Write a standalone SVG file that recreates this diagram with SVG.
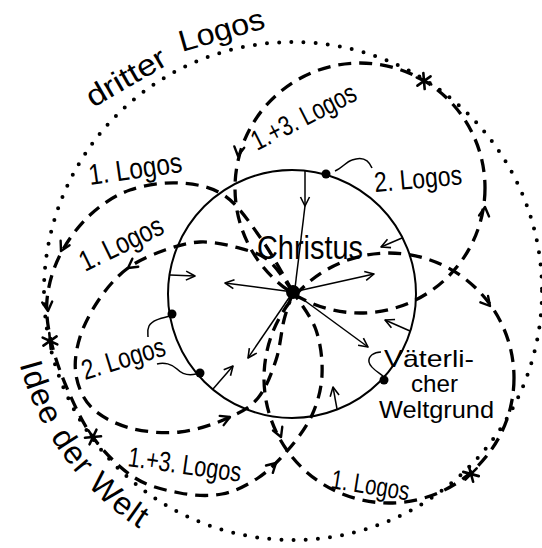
<svg xmlns="http://www.w3.org/2000/svg" width="542" height="548" viewBox="0 0 542 548">
<defs>
<style>
.dash{fill:none;stroke:#000;stroke-width:3.3;stroke-dasharray:13 8}
.dots{fill:none;stroke:#000;stroke-width:4;stroke-dasharray:0 12.2;stroke-linecap:round}
.solid{fill:none;stroke:#000;stroke-width:2}
.thin{fill:none;stroke:#000;stroke-width:1.5}
.ah{fill:none;stroke:#000;stroke-width:2.4;stroke-linecap:round;stroke-linejoin:round}
.star{fill:none;stroke:#000;stroke-width:2.6;stroke-linecap:round}
.lbl{font-family:"Liberation Sans",Arial,sans-serif;fill:#000}
</style>
<path id="ah" d="M-9,-5 L0,0 L-9,5"/>
<path id="star" d="M-8,0 L8,0 M-4,-7 L4,7 M-4,7 L4,-7"/>
<marker id="arr" markerUnits="userSpaceOnUse" viewBox="-11 -6 13 12" markerWidth="13" markerHeight="12" refX="0" refY="0" orient="auto">
<path d="M-9,-4.5 L0,0 L-9,4.5" fill="none" stroke="#000" stroke-width="1.6" stroke-linejoin="round"/>
</marker>
<path id="arcLeft" d="M18.4,359.5 A283,283 0 0 0 187,553.4"/>
</defs>
<rect width="542" height="548" fill="#fff"/>

<g id="dritter-logos">
<circle class="dots" cx="293" cy="291" r="249"/>
<text class="lbl" font-size="30" x="93" y="108" transform="rotate(-30 93 108)" textLength="88" lengthAdjust="spacingAndGlyphs">dritter</text>
<text class="lbl" font-size="30" x="182" y="52" transform="rotate(-16 182 52)" textLength="88" lengthAdjust="spacingAndGlyphs">Logos</text>
</g>

<g id="idee-der-welt">
<text class="lbl" font-size="32" letter-spacing="1.5"><textPath href="#arcLeft" startOffset="5">Idee der Welt</textPath></text>
</g>

<g id="connectors">
<!-- Logos loop A (1.+3. Logos, upper right) -->
<circle class="dash" cx="360" cy="188" r="125"/>
<!-- Logos loop B (1. Logos, lower right) -->
<circle class="dash" cx="389" cy="378" r="125"/>
<!-- Logos loop C (2. Logos, left) -->
<path class="dash" d="M293,292 C288.8,286.7 277.7,267.5 268,260 C258.3,252.5 246.3,250 235,247 C223.7,244 211.7,241.5 200,242 C188.3,242.5 177,245.7 165,250 C153,254.3 138.8,260 128,268 C117.2,276 108,286.5 100,298 C92,309.5 84,324.2 80,337 C76,349.8 74,363.2 76,375 C78,386.8 83,399.2 92,408 C101,416.8 115.3,424 130,428 C144.7,432 163.7,433.7 180,432 C196.3,430.3 215,423.7 228,418 C241,412.3 250,407.7 258,398 C266,388.3 271.7,373 276,360 C280.3,347 281.2,331.3 284,320 C286.8,308.7 291.5,296.7 293,292"/>
<!-- Logos loop D (1. Logos outer / 1.+3. Logos lower) -->
<path class="dash" d="M293,292 C287.8,283.3 273.3,256 262,240 C250.7,224 238.7,205.5 225,196 C211.3,186.5 195.8,184 180,183 C164.2,182 145,184.7 130,190 C115,195.3 101.7,204.2 90,215 C78.3,225.8 67.2,240.8 60,255 C52.8,269.2 48.3,285 47,300 C45.7,315 48.2,329.2 52,345 C55.8,360.8 62.8,379.2 70,395 C77.2,410.8 84.2,426.2 95,440 C105.8,453.8 120.8,469.2 135,478 C149.2,486.8 165.5,490.3 180,493 C194.5,495.7 209,496.5 222,494 C235,491.5 247,485.3 258,478 C269,470.7 279,460.5 288,450 C297,439.5 306.3,427.5 312,415 C317.7,402.5 321.3,389.2 322,375 C322.7,360.8 320.8,343.8 316,330 C311.2,316.2 296.8,298.3 293,292"/>
<!-- arrowheads on loops -->
<use href="#ah" class="ah" transform="translate(238,156) rotate(98)"/>
<use href="#ah" class="ah" transform="translate(485,207) rotate(-84)"/>
<use href="#ah" class="ah" transform="translate(490,306) rotate(50)"/>
<use href="#ah" class="ah" transform="translate(281,437) rotate(68)"/>
<use href="#ah" class="ah" transform="translate(128,268) rotate(144)"/>
<use href="#ah" class="ah" transform="translate(230,417) rotate(-23)"/>
<use href="#ah" class="ah" transform="translate(61,251) rotate(117)"/>
<use href="#ah" class="ah" transform="translate(48,311) rotate(85)"/>
<use href="#ah" class="ah" transform="translate(276,463) rotate(-43)"/>
<!-- crossing stars -->
<use href="#star" class="star" transform="translate(424,81) rotate(25)"/>
<use href="#star" class="star" transform="translate(471,474) rotate(-45)"/>
<use href="#star" class="star" transform="translate(50,341) rotate(85)"/>
<use href="#star" class="star" transform="translate(93,437) rotate(55)"/>
<!-- loop labels -->
<text class="lbl" font-size="29" x="90" y="185" transform="rotate(-8 90 185)" textLength="94" lengthAdjust="spacingAndGlyphs">1. Logos</text>
<text class="lbl" font-size="29" x="85" y="272" transform="rotate(-26 85 272)" textLength="90" lengthAdjust="spacingAndGlyphs">1. Logos</text>
<text class="lbl" font-size="28" x="257" y="151" transform="rotate(-27 257 151)" textLength="114" lengthAdjust="spacingAndGlyphs">1.+3. Logos</text>
<text class="lbl" font-size="28" x="127" y="466" transform="rotate(8 127 466)" textLength="114" lengthAdjust="spacingAndGlyphs">1.+3. Logos</text>
<text class="lbl" font-size="27" x="330" y="488" transform="rotate(9 330 488)" textLength="79" lengthAdjust="spacingAndGlyphs">1. Logos</text>
</g>

<g id="weltkreis">
<circle class="solid" cx="292" cy="294" r="124"/>
<!-- short arrows at the circle -->
<line class="thin" x1="170" y1="275" x2="195" y2="276" marker-end="url(#arr)"/>
<line class="thin" x1="213" y1="389" x2="233" y2="366" marker-end="url(#arr)"/>
<line class="thin" x1="337" y1="409" x2="333" y2="387" marker-end="url(#arr)"/>
<line class="thin" x1="410" y1="331" x2="385" y2="320" marker-end="url(#arr)"/>
<line class="thin" x1="402" y1="238" x2="381" y2="247" marker-end="url(#arr)"/>
</g>

<g id="christus">
<line class="thin" x1="293" y1="292" x2="225" y2="283" marker-end="url(#arr)"/>
<line class="thin" x1="293" y1="292" x2="374" y2="274" marker-end="url(#arr)"/>
<line class="thin" x1="293" y1="292" x2="368" y2="347" marker-end="url(#arr)"/>
<line class="thin" x1="293" y1="292" x2="248" y2="358" marker-end="url(#arr)"/>
<line class="thin" x1="305" y1="170" x2="305" y2="206" marker-end="url(#arr)"/>
<line class="thin" x1="305" y1="206" x2="295" y2="288"/>
<circle cx="293" cy="292" r="7"/>
<text class="lbl" font-size="33" x="257" y="259" textLength="106" lengthAdjust="spacingAndGlyphs">Christus</text>
</g>

<g id="logos2-top">
<circle cx="326" cy="174" r="4.5"/>
<path class="thin" d="M335,171 C342,168 346,162 352,160 C360,157 368,158 372,168"/>
<text class="lbl" font-size="28" x="375" y="192" transform="rotate(-5 375 192)" textLength="88" lengthAdjust="spacingAndGlyphs">2. Logos</text>
</g>

<g id="logos2-left">
<circle cx="172" cy="314" r="4.5"/>
<circle cx="200" cy="373" r="4.5"/>
<path class="thin" d="M170,316 C162,318 152,320 149,326 C147,330 148,334 148,337"/>
<path class="thin" d="M196,374 C188,376 182,374 177,369 C172,364 164,362 157,364"/>
<text class="lbl" font-size="28" x="85" y="380" transform="rotate(-17 85 380)" textLength="86" lengthAdjust="spacingAndGlyphs">2. Logos</text>
</g>

<g id="vaeterlicher-weltgrund">
<circle cx="384" cy="380" r="4.5"/>
<path class="thin" d="M383,376 C378,372 370,368 369,362 C368,356 374,352 381,352"/>
<text class="lbl" font-size="24" x="384" y="367" textLength="90" lengthAdjust="spacingAndGlyphs">Väterli-</text>
<text class="lbl" font-size="24" x="411" y="392" textLength="47" lengthAdjust="spacingAndGlyphs">cher</text>
<text class="lbl" font-size="24" x="379" y="418" textLength="115" lengthAdjust="spacingAndGlyphs">Weltgrund</text>
</g>
</svg>
